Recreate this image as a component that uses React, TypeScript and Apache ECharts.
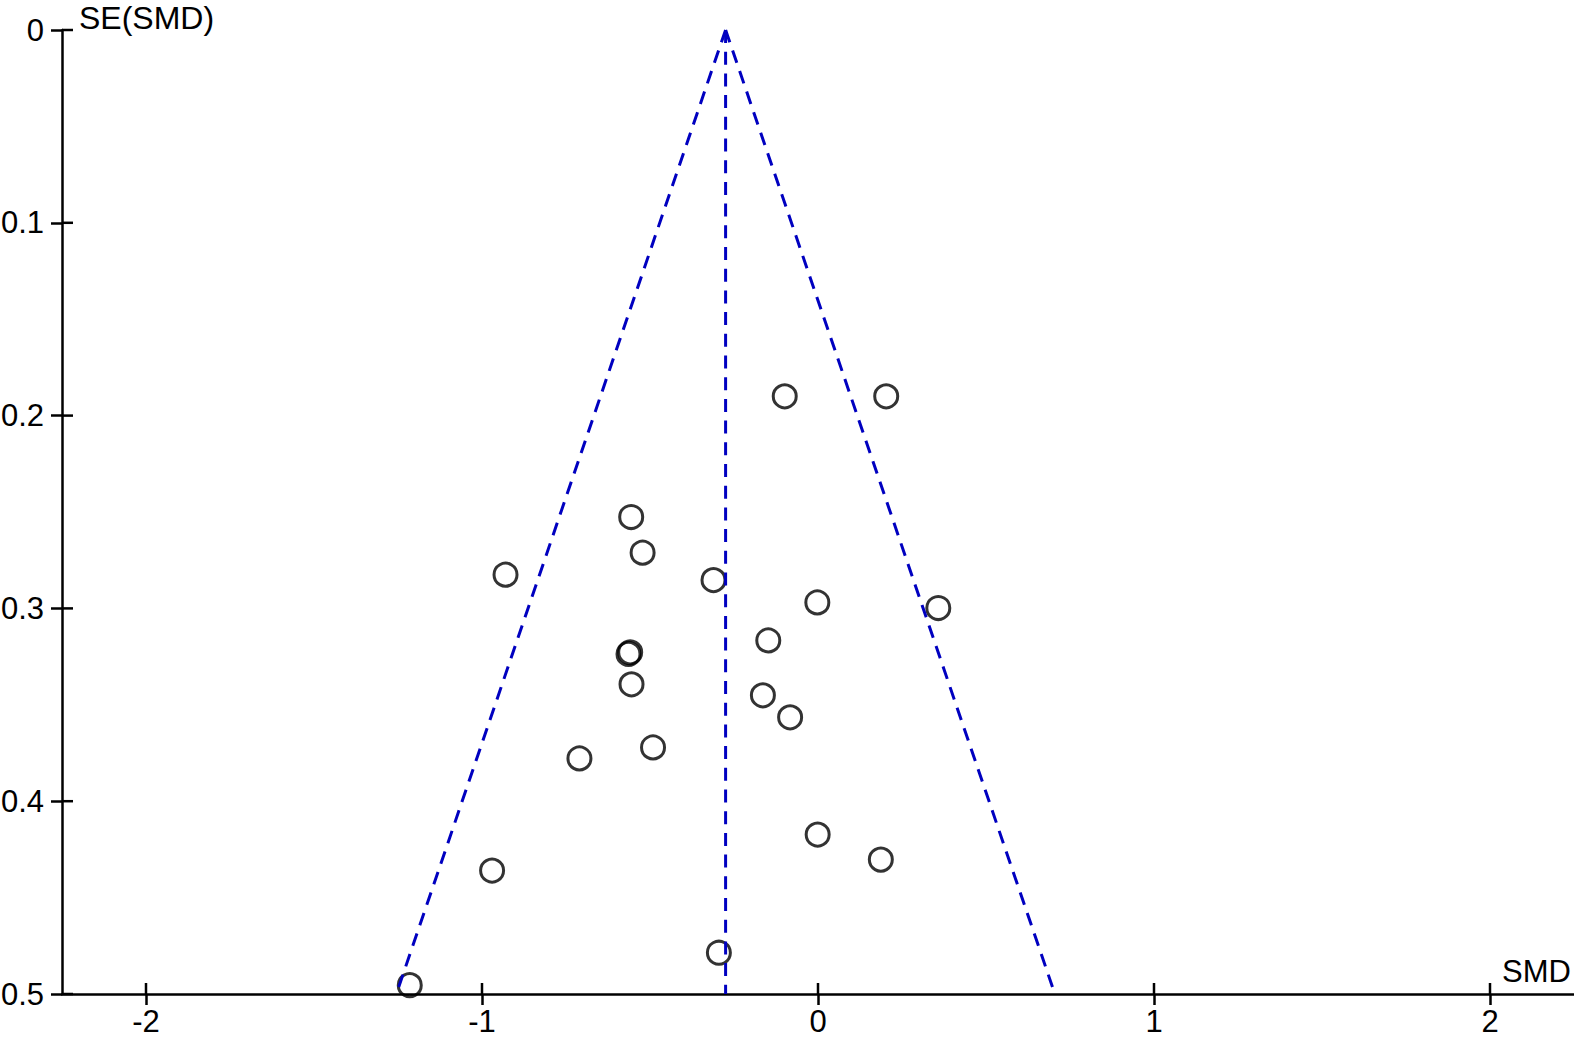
import React, { useEffect, useRef } from "react";
import * as echarts from "echarts";

// Study effect sizes (SMD) and their standard errors
const smd = [-0.099, 0.203, -0.556, -0.522, -0.93, -0.311, -0.002, 0.358, -0.148, -0.559, -0.564, -0.555, -0.164, -0.083, -0.491, -0.71, -0.001, 0.187, -0.97, -0.295, -1.215];
const seSmd = [0.19, 0.19, 0.2526, 0.2711, 0.2825, 0.2853, 0.2969, 0.2998, 0.3166, 0.3228, 0.3236, 0.3394, 0.3451, 0.3565, 0.3721, 0.3778, 0.4173, 0.4303, 0.436, 0.4786, 0.4954];

// Pooled estimate and funnel limits
const pooled = -0.275;
const seMax = 0.5;
const zCrit = 1.96;

const xMin = -2.25;
const xMax = 2.25;
const xTicks = [-2, -1, 0, 1, 2];
const yTicks = [0, 0.1, 0.2, 0.3, 0.4, 0.5];

const FONT = "Liberation Sans, Arial, Helvetica, sans-serif";
const BLUE = "#0000C0";
const TICK_LEN = 11;

const W = 1574;
const H = 1040;

export default function App() {
  const ref = useRef<HTMLDivElement>(null);
  useEffect(() => {
    if (!ref.current) return;
    const chart = echarts.init(ref.current, null, { renderer: "svg" });
    const points = smd.map((v, i) => [v, seSmd[i]]);
    const dash = { color: BLUE, width: 3, type: [13, 8.7] as any, cap: "butt" as any };
    const lineSeries = (pts: number[][]) => ({
      type: "line",
      data: pts,
      symbol: "none",
      silent: true,
      z: 5,
      lineStyle: dash,
    });
    const tickStyle = { color: "#000", width: 2.5 };
    chart.setOption({
      animation: false,
      backgroundColor: "#ffffff",
      grid: {
        left: 62,
        right: 0,
        top: 30,
        bottom: 46,
        containLabel: false,
        outerBoundsMode: "none",
      },
      xAxis: {
        type: "value",
        min: xMin,
        max: xMax,
        position: "bottom",
        splitLine: { show: false },
        axisLine: { show: true, onZero: false, lineStyle: tickStyle },
        axisTick: { show: true, inside: false, length: TICK_LEN, lineStyle: tickStyle, customValues: xTicks },
        axisLabel: { show: true, margin: 12, fontSize: 31, fontFamily: FONT, color: "#000", customValues: xTicks },
      },
      yAxis: {
        type: "value",
        min: 0,
        max: seMax,
        interval: 0.1,
        inverse: true,
        position: "left",
        splitLine: { show: false },
        axisLine: { show: true, onZero: false, lineStyle: tickStyle },
        axisTick: { show: true, inside: false, length: TICK_LEN, lineStyle: tickStyle, customValues: yTicks },
        axisLabel: { show: true, margin: 18, fontSize: 31, fontFamily: FONT, color: "#000", customValues: yTicks },
      },
      series: [
        {
          type: "scatter",
          data: points,
          symbol: "circle",
          symbolSize: 23,
          z: 3,
          itemStyle: { color: "rgba(0,0,0,0)", borderColor: "#000", borderWidth: 3 },
        },
        lineSeries([[pooled, 0], [pooled - zCrit * seMax, seMax]]),
        lineSeries([[pooled, 0], [pooled + zCrit * seMax, seMax]]),
        lineSeries([[pooled, 0], [pooled, seMax]]),
      ],
    });

    // inner halves of the crossing tick marks, placed through the chart's own scales
    const tickEls: any[] = [];
    xTicks.forEach((v) => {
      const p = chart.convertToPixel({ gridIndex: 0 }, [v, seMax]) as number[];
      tickEls.push({
        type: "line",
        silent: true,
        z: 10,
        shape: { x1: p[0], y1: p[1], x2: p[0], y2: p[1] - TICK_LEN },
        style: { stroke: "#000", lineWidth: 2.5 },
      });
    });
    yTicks.forEach((v) => {
      const p = chart.convertToPixel({ gridIndex: 0 }, [xMin, v]) as number[];
      tickEls.push({
        type: "line",
        silent: true,
        z: 10,
        shape: { x1: p[0], y1: p[1], x2: p[0] + TICK_LEN, y2: p[1] },
        style: { stroke: "#000", lineWidth: 2.5 },
      });
    });

    chart.setOption({
      graphic: [
        { type: "text", left: 79, top: 2, style: { text: "SE(SMD)", font: `32px ${FONT}`, fill: "#000" } },
        { type: "text", left: 1502, top: 956, style: { text: "SMD", font: `31px ${FONT}`, fill: "#000" } },
        ...tickEls,
      ],
    });
    return () => chart.dispose();
  }, []);
  return (
    <div
      ref={ref}
      style={{ position: "fixed", left: 0, top: 0, width: W, height: H, background: "#fff" }}
    />
  );
}
